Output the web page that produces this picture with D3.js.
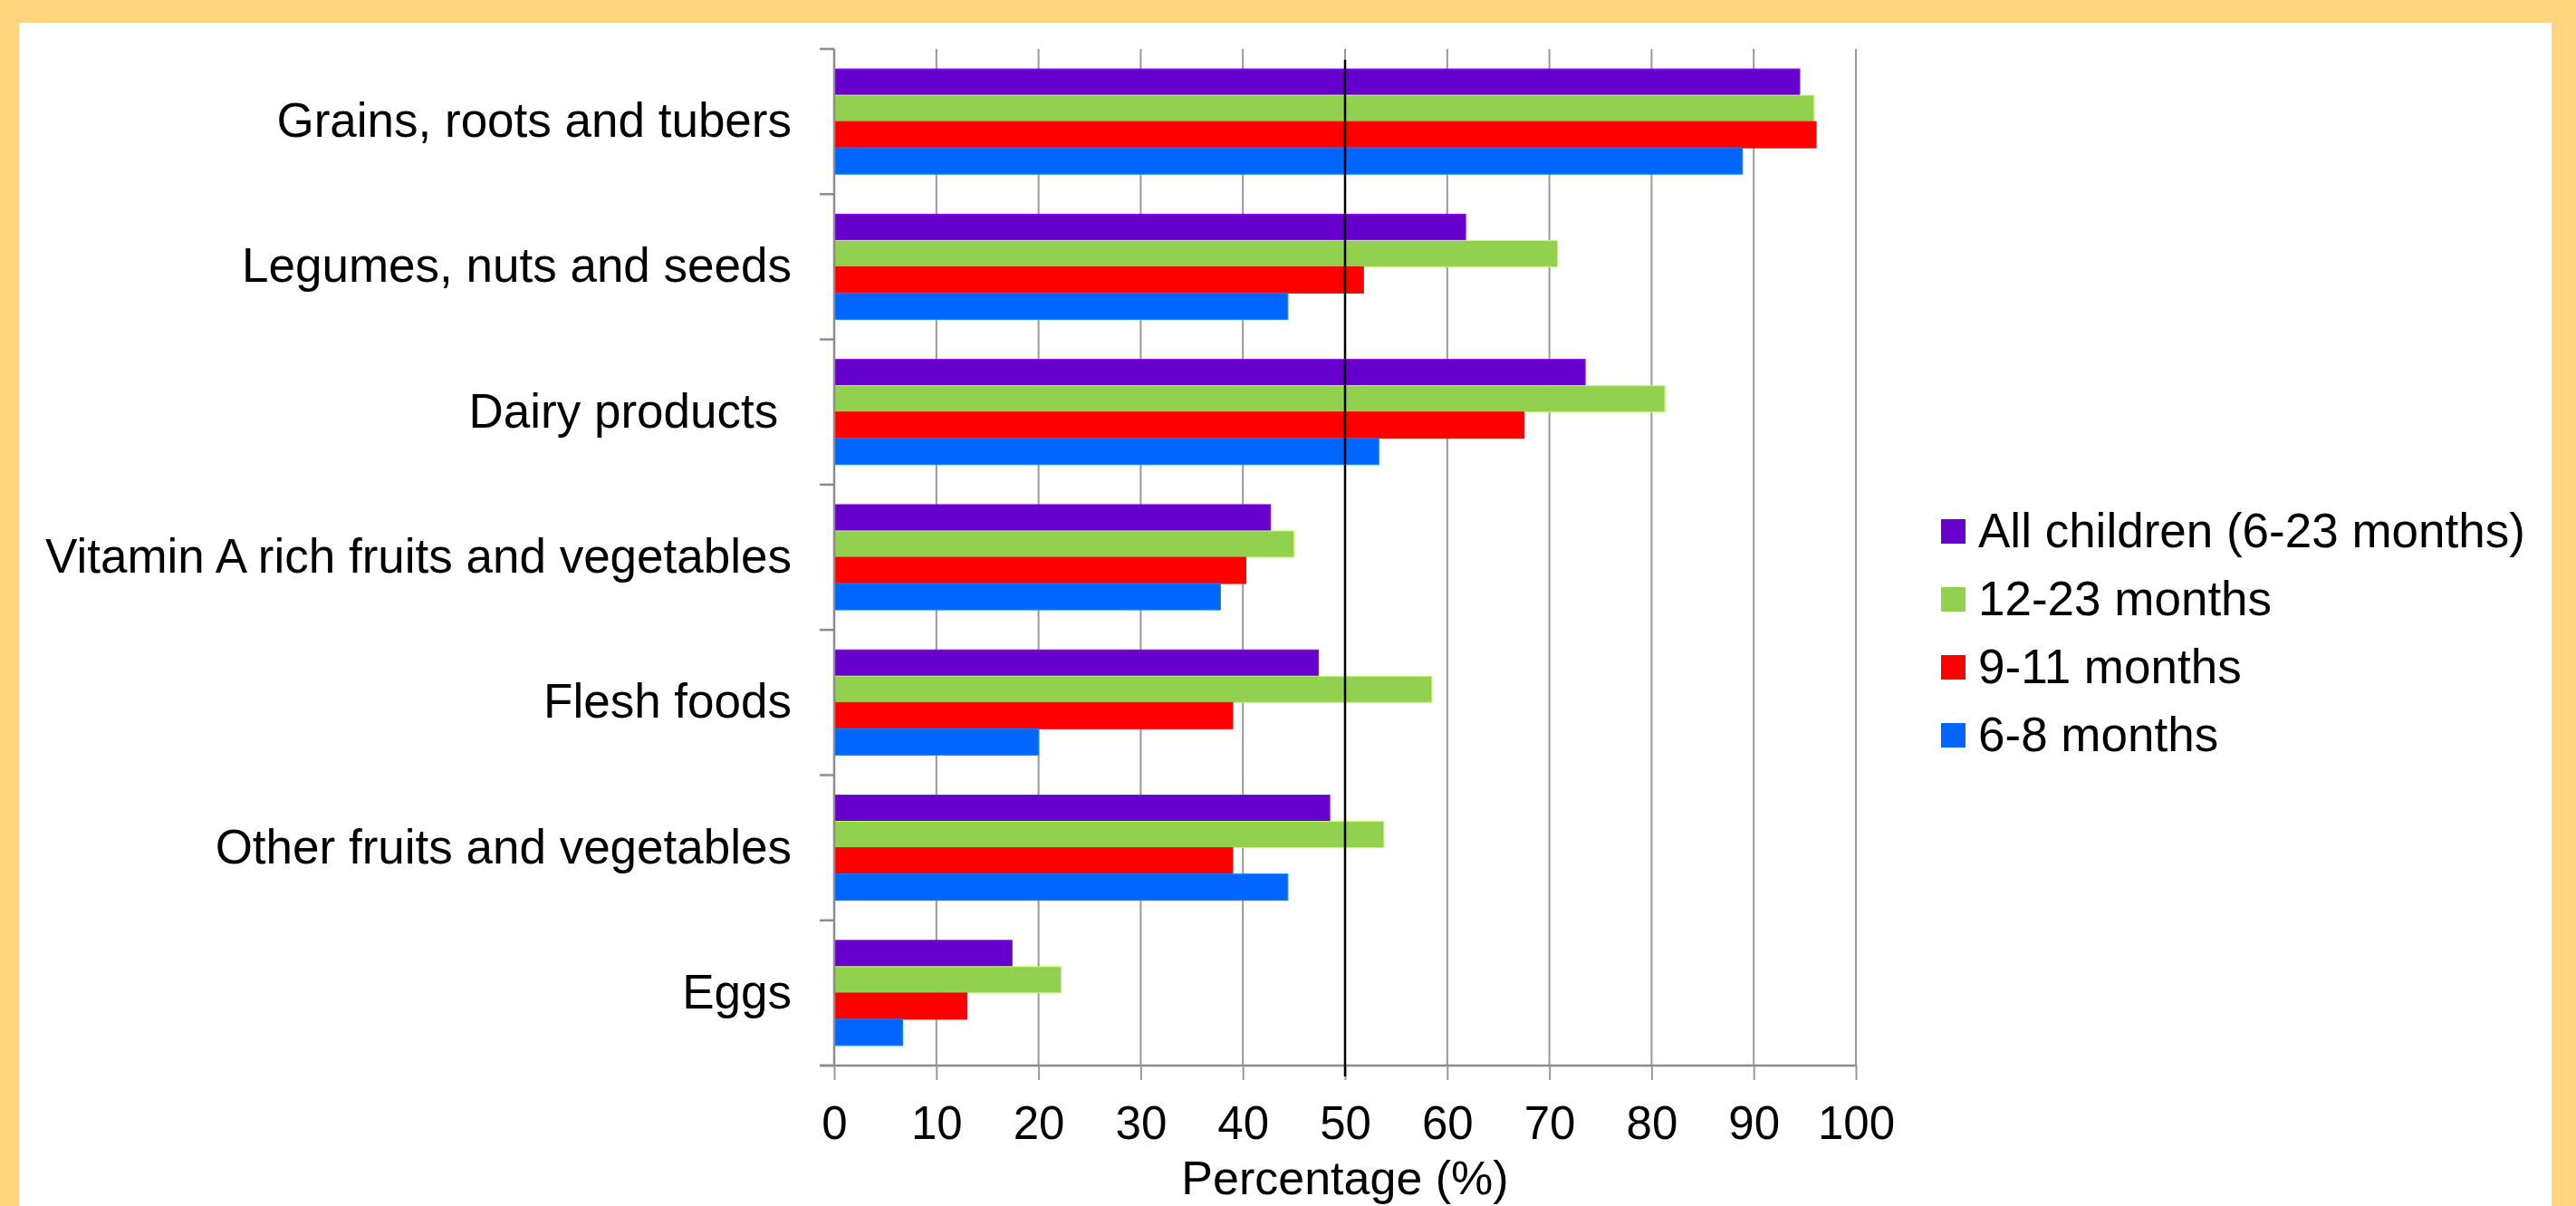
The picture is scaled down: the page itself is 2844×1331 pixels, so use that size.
<!DOCTYPE html>
<html>
<head>
<meta charset="utf-8">
<script src="https://cdn.jsdelivr.net/npm/d3@7"></script>
<style>
	body { margin: 0; background: #FFD580; }
	svg { display: block; }
	text { font-family: "Liberation Sans", Arial, sans-serif; fill: #000; }
</style>
</head>
<body>
<svg id="chart" width="2844" height="1331"></svg>
<script>
// categories, top to bottom
const categories = [
	"Grains, roots and tubers",
	"Legumes, nuts and seeds",
	"Dairy products ",
	"Vitamin A rich fruits and vegetables",
	"Flesh foods",
	"Other fruits and vegetables",
	"Eggs"
];

// series names (legend order = bar order in each group)
const seriesNames = ["All children (6-23 months)", "12-23 months", "9-11 months", "6-8 months"];
const seriesColors = ["#6600CC", "#92D050", "#FF0000", "#0066FF"];

// percentages
const allChildren  = [94.5, 61.8, 73.5, 42.7, 47.4, 48.5, 17.4];
const months12to23 = [95.9, 70.8, 81.3, 45.0, 58.5, 53.8, 22.2];
const months9to11  = [96.1, 51.8, 67.5, 40.3, 39.0, 39.0, 13.0];
const months6to8   = [88.9, 44.4, 53.3, 37.8, 20.0, 44.4, 6.7];

const xTicks = [0, 10, 20, 30, 40, 50, 60, 70, 80, 90, 100];
const refValue = 50;

const seriesValues = [allChildren, months12to23, months9to11, months6to8];

let rows = categories.map((c, i) => ({
	category: c,
	values: seriesNames.map((s, j) => ({ series: s, value: seriesValues[j][i] }))
}));

const svg = d3.select("#chart");

// white panel inside yellow frame
svg.append("rect")
	.attr("x", 21).attr("y", 25)
	.attr("width", 2817 - 21).attr("height", 1331 - 25)
	.attr("fill", "#ffffff");

const plotTop = 54, plotBottom = 1176, plotLeft = 921, plotRight = 2049;

const x = d3.scaleLinear().domain([0, 100]).range([plotLeft, plotRight]);

const y0 = d3.scaleBand()
	.domain(categories)
	.range([plotTop, plotBottom])
	.paddingInner(0.2757)
	.paddingOuter(0.1378);

const y1 = d3.scaleBand()
	.domain(seriesNames)
	.range([0, y0.bandwidth()]);

const color = d3.scaleOrdinal().domain(seriesNames).range(seriesColors);

// vertical gridlines
svg.append("g").selectAll("line")
	.data(xTicks.slice(1))
	.join("line")
	.attr("x1", d => x(d)).attr("x2", d => x(d))
	.attr("y1", plotTop).attr("y2", plotBottom)
	.attr("stroke", "#999999")
	.attr("stroke-width", 2);

// bars
const groups = svg.append("g").selectAll("g")
	.data(rows)
	.join("g")
	.attr("transform", d => `translate(0,${y0(d.category)})`);

groups.selectAll("rect")
	.data(d => d.values)
	.join("rect")
	.attr("x", x(0))
	.attr("y", d => y1(d.series))
	.attr("width", d => x(d.value) - x(0))
	.attr("height", y1.bandwidth())
	.attr("fill", d => color(d.series))
	.attr("stroke", d => d3.color(color(d.series)).brighter(0.8))
	.attr("stroke-width", 1);

// y axis line + ticks between categories
svg.append("line")
	.attr("x1", plotLeft).attr("x2", plotLeft)
	.attr("y1", plotTop).attr("y2", plotBottom)
	.attr("stroke", "#8c8c8c").attr("stroke-width", 2.5);

svg.append("g").selectAll("line")
	.data(categories.map(c => y0(c) - y0.paddingOuter() * y0.step()).concat([plotBottom]))
	.join("line")
	.attr("x1", plotLeft - 16).attr("x2", plotLeft)
	.attr("y1", d => d).attr("y2", d => d)
	.attr("stroke", "#8c8c8c").attr("stroke-width", 2.5);

// category labels
svg.append("g")
	.attr("transform", `translate(${plotLeft},0)`)
	.call(d3.axisLeft(y0).tickSize(0).tickPadding(47))
	.call(g => g.select(".domain").remove())
	.selectAll("text")
	.style("font-family", "'Liberation Sans', Arial, sans-serif")
	.style("font-size", "53px")
	.style("white-space", "pre")
	.attr("fill", "#000");

// x axis
svg.append("line")
	.attr("x1", plotLeft - 16).attr("x2", plotRight)
	.attr("y1", plotBottom).attr("y2", plotBottom)
	.attr("stroke", "#8c8c8c").attr("stroke-width", 2.5);

const xAxis = svg.append("g")
	.attr("transform", `translate(0,${plotBottom})`)
	.call(d3.axisBottom(x).tickValues(xTicks).tickSize(16).tickPadding(29).tickFormat(d3.format("d")));
xAxis.select(".domain").remove();
xAxis.selectAll(".tick line").attr("stroke", "#999999").attr("stroke-width", 2);
xAxis.selectAll("text")
	.style("font-family", "'Liberation Sans', Arial, sans-serif")
	.style("font-size", "51px")
	.attr("fill", "#000");

// reference line at 50%
svg.append("line")
	.attr("x1", x(refValue)).attr("x2", x(refValue))
	.attr("y1", 66).attr("y2", 1188)
	.attr("stroke", "#000").attr("stroke-width", 2.5);

// axis title
svg.append("text")
	.attr("x", (plotLeft + plotRight) / 2)
	.attr("y", 1318)
	.attr("text-anchor", "middle")
	.style("font-size", "52px")
	.text("Percentage (%)");

// legend
const legend = svg.append("g").selectAll("g")
	.data(seriesNames)
	.join("g")
	.attr("transform", (d, i) => `translate(2143,${573 + i * 75})`);

legend.append("rect")
	.attr("width", 27).attr("height", 27)
	.attr("fill", d => color(d));

legend.append("text")
	.attr("x", 41)
	.attr("y", 31)
	.style("font-size", "53px")
	.text(d => d);
</script>
</body>
</html>
